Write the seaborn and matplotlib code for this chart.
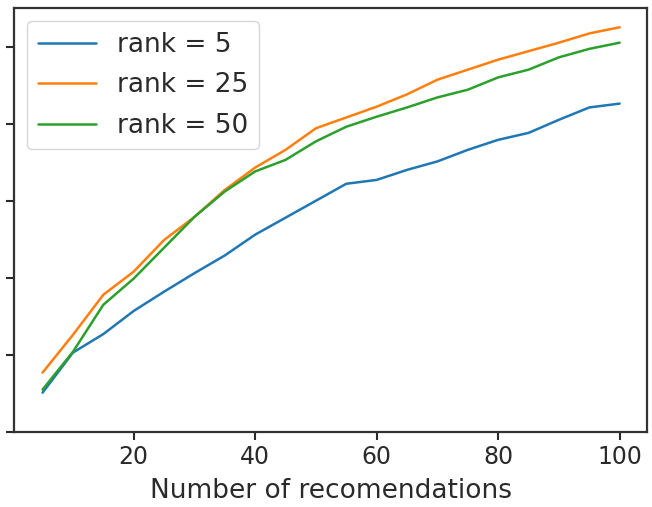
import numpy as np
import pandas as pd
import matplotlib
matplotlib.use("Agg")
import matplotlib.pyplot as plt
import seaborn as sns

# number of recommendations (x axis)
n_recs = [5, 10, 15, 20, 25, 30, 35, 40, 45, 50,
          55, 60, 65, 70, 75, 80, 85, 90, 95, 100]

# metric values (y tick labels are cropped in the source)
rank_5 = [0.51, 1.03, 1.27, 1.57, 1.82, 2.06, 2.29, 2.56, 2.78, 3.00,
          3.22, 3.27, 3.40, 3.51, 3.66, 3.79, 3.88, 4.05, 4.21, 4.26]
rank_25 = [0.77, 1.26, 1.78, 2.08, 2.49, 2.79, 3.14, 3.43, 3.66, 3.94,
           4.08, 4.22, 4.38, 4.57, 4.70, 4.83, 4.94, 5.05, 5.17, 5.25]
rank_50 = [0.55, 1.04, 1.65, 1.99, 2.39, 2.79, 3.12, 3.38, 3.53, 3.77,
           3.96, 4.09, 4.21, 4.34, 4.44, 4.60, 4.70, 4.86, 4.97, 5.05]

labels = ["rank = 5", "rank = 25", "rank = 50"]
colors = ["#1f77b4", "#ff7f0e", "#2ca02c"]
y_ticks = [0, 1, 2, 3, 4, 5]

df = pd.concat([
    pd.DataFrame({"n": n_recs, "value": vals, "model": lab})
    for vals, lab in zip([rank_5, rank_25, rank_50], labels)
])

sns.set_style("ticks")
plt.rcParams["font.family"] = ["DejaVu Sans"]

fig = plt.figure(figsize=(6.52, 5.07), dpi=100)
ax = fig.add_axes([14 / 652, 75 / 507, 633 / 652, 424 / 507])

sns.lineplot(data=df, x="n", y="value", hue="model", palette=colors,
             linewidth=1.8, ax=ax)

ax.set_xlim(0.3, 104.5)
ax.set_ylim(0, 5.5)
ax.set_xticks([20, 40, 60, 80, 100])
ax.set_yticks(y_ticks)
ax.set_yticklabels([])
ax.set_xlabel("Number of recomendations", fontsize=19, color="#2a2a2a",
              labelpad=6)
ax.set_ylabel("")
ax.tick_params(axis="both", labelsize=17, length=6, width=1.5,
               direction="out", colors="#2a2a2a")
for sp in ax.spines.values():
    sp.set_linewidth(1.6)
    sp.set_color("#333333")

leg = ax.legend(loc="upper left", fontsize=19, handlelength=2.2,
                frameon=True, borderaxespad=0.5, labelspacing=0.55)
for t in leg.get_texts():
    t.set_color("#2a2a2a")
for line in leg.get_lines():
    line.set_linewidth(1.8)

fig.savefig("out.png", dpi=100)
